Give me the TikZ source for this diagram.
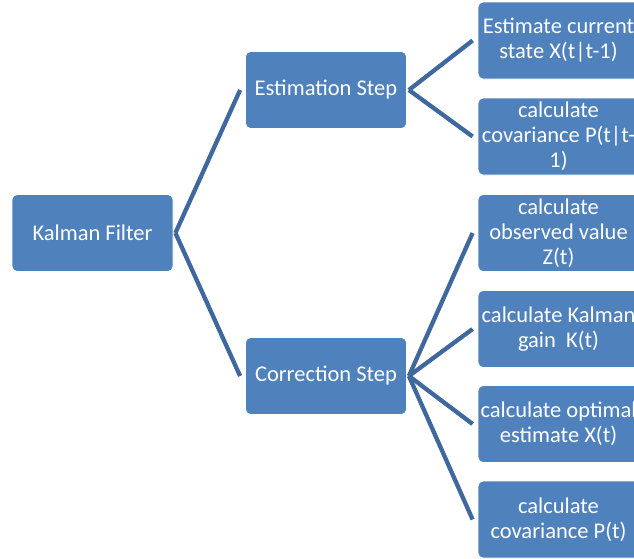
\documentclass[tikz,border=0pt]{standalone}
\usepackage{fontspec}
\setmainfont{Carlito}
\definecolor{boxblue}{RGB}{79,129,189}
\definecolor{linkblue}{RGB}{62,104,158}
\newcommand{\branch}[2]{\draw[link] ([xshift=2pt]#1.east) -- ([xshift=-5pt]#2.west);}

\begin{document}
\begin{tikzpicture}[x=1pt,y=-1pt,
    box/.style={draw=white,line width=0.8pt,fill=boxblue,rounded corners=5pt,
      minimum width=161pt,minimum height=77pt,inner sep=0pt,text=white,
      align=center,font=\fontsize{22.5}{25}\selectfont},
    link/.style={draw=linkblue,line width=4.3pt}]
  \useasboundingbox (0,0) rectangle (634,558);
  \clip (0,0) rectangle (634,558);
  % root and the two steps
  \node[box] (kf) at (92.5,233) {Kalman Filter};
  \node[box] (est) at (326,90) {Estimation Step};
  \node[box] (cor) at (326,376) {Correction Step};
  % right column
  \node[box] (xpred) at (558.5,40.5) {Estimate current\\state X(t|t-1)};
  \node[box] (ppred) at (558.5,136.5) {calculate\\covariance P(t|t-\\1)};
  \node[box] (zobs) at (558.5,233) {calculate\\observed value\\Z(t)};
  \node[box] (gain) at (558.5,329) {calculate Kalman\\gain~ K(t)};
  \node[box] (xopt) at (558.5,424) {calculate optimal\\estimate X(t)};
  \node[box] (pcov) at (558.5,519.5) {calculate\\covariance P(t)};
  % connectors
  \branch{kf}{est}
  \branch{kf}{cor}
  \branch{est}{xpred}
  \branch{est}{ppred}
  \branch{cor}{zobs}
  \branch{cor}{gain}
  \branch{cor}{xopt}
  \branch{cor}{pcov}
\end{tikzpicture}
\end{document}
